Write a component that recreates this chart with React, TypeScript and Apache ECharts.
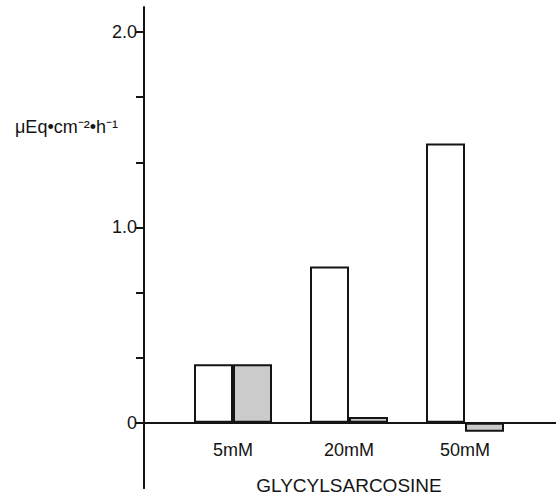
import React, { useEffect, useRef } from "react";
import * as echarts from "echarts";

const categories = ["5mM", "20mM", "50mM"];
const openValues = [0.3, 0.8, 1.43];
const stippledValues = [0.3, 0.03, -0.045];
const yLabelMap: Record<string, string> = { "0": "0", "1": "1.0", "2": "2.0" };
const yAxisTitle = "μEq•cm⁻²•h⁻¹";
const xAxisTitle = "GLYCYLSARCOSINE";

const FONT = "Liberation Sans, Arial, Helvetica, sans-serif";
const INK = "#141414";

export default function App() {
  const ref = useRef<HTMLDivElement>(null);
  useEffect(() => {
    if (!ref.current) return;
    const chart = echarts.init(ref.current, undefined, { renderer: "svg" });
    const yMin = -1 / 3;
    const hiddenY = (gridIndex: number, max: number) => ({
      type: "value",
      gridIndex,
      min: yMin,
      max,
      show: false,
    });
    chart.setOption({
      animation: false,
      backgroundColor: "#ffffff",
      title: {
        text: yAxisTitle,
        left: 10,
        top: 113,
        textStyle: { fontFamily: FONT, fontSize: 18, fontWeight: "normal", color: INK },
      },
      grid: [
        // bars
        { left: 175, right: 33, top: 32, bottom: 9, outerBoundsMode: "none", containLabel: false },
        // full-length axis lines
        { left: 144, right: 0, top: 7, bottom: 9, outerBoundsMode: "none", containLabel: false },
        // category labels, bottom edge on the zero line
        { left: 175, right: 33, top: 32, bottom: 74, outerBoundsMode: "none", containLabel: false },
      ],
      xAxis: [
        {
          type: "category",
          gridIndex: 0,
          data: categories,
          axisLine: { show: false },
          axisTick: { show: false },
          axisLabel: { show: false },
        },
        {
          type: "value",
          gridIndex: 1,
          min: 0,
          max: 1,
          axisLine: { show: true, onZero: true, lineStyle: { color: INK, width: 2 } },
          axisTick: { show: false },
          axisLabel: { show: false },
          splitLine: { show: false },
        },
        {
          type: "category",
          gridIndex: 2,
          data: categories,
          axisLine: { show: false, onZero: false },
          axisTick: { show: false },
          axisLabel: { fontFamily: FONT, fontSize: 18, color: INK, margin: 18 },
          name: xAxisTitle,
          nameLocation: "middle",
          nameGap: 53,
          nameTextStyle: { fontFamily: FONT, fontSize: 19, color: INK },
        },
      ],
      yAxis: [
        {
          type: "value",
          gridIndex: 0,
          min: yMin,
          max: 2,
          interval: 1 / 3,
          offset: 31,
          axisLine: { show: true, lineStyle: { color: INK, width: 2 } },
          axisTick: { show: true, length: 8, lineStyle: { color: INK, width: 2 } },
          axisLabel: {
            fontFamily: FONT,
            fontSize: 18,
            color: INK,
            margin: 7,
            showMinLabel: false,
            formatter: (v: number) => {
              const k = String(Math.round(v * 1000) / 1000);
              return yLabelMap[k] ?? "";
            },
          },
          splitLine: { show: false },
        },
        {
          type: "value",
          gridIndex: 1,
          min: yMin,
          max: 2.128,
          axisLine: { show: true, lineStyle: { color: INK, width: 2 } },
          axisTick: { show: false },
          axisLabel: { show: false },
          splitLine: { show: false },
        },
        { type: "value", gridIndex: 2, min: 0, max: 2, show: false },
      ],
      series: [
        {
          type: "bar",
          xAxisIndex: 0,
          yAxisIndex: 0,
          data: openValues,
          barWidth: 39,
          barGap: "0%",
          itemStyle: { color: "#ffffff", borderColor: INK, borderWidth: 2 },
        },
        {
          type: "bar",
          xAxisIndex: 0,
          yAxisIndex: 0,
          data: stippledValues,
          barWidth: 39,
          barGap: "0%",
          itemStyle: { color: "#cbcbcb", borderColor: INK, borderWidth: 2 },
        },
      ],
    });
    return () => chart.dispose();
  }, []);
  return (
    <div
      ref={ref}
      style={{ position: "absolute", left: 0, top: 0, width: 556, height: 497 }}
    />
  );
}
